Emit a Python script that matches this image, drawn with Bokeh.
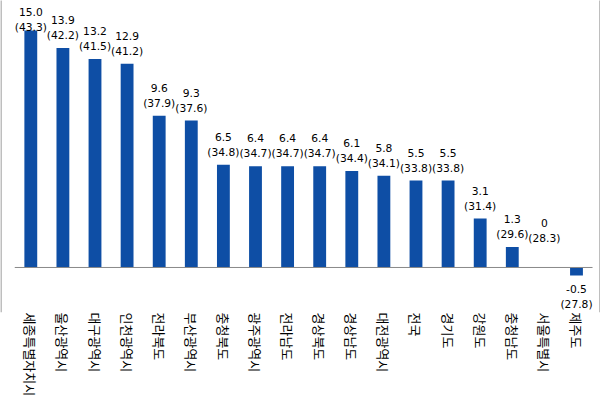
import numpy as np
from bokeh.plotting import figure
from bokeh.models import ColumnDataSource, FixedTicker, Range1d, BoxAnnotation, LabelSet
from bokeh.core.properties import value
from bokeh.embed import file_html
from bokeh.resources import INLINE

categories = ["세종특별자치시", "울산광역시", "대구광역시", "인천광역시", "전라북도", "부산광역시",
              "충청북도", "광주광역시", "전라남도", "경상북도", "경상남도", "대전광역시",
              "전국", "경기도", "강원도", "충청남도", "서울특별시", "제주도"]
values = [15.0, 13.9, 13.2, 12.9, 9.6, 9.3, 6.5, 6.4, 6.4, 6.4, 6.1, 5.8, 5.5, 5.5, 3.1, 1.3, 0, -0.5]
value_labels = ["15.0", "13.9", "13.2", "12.9", "9.6", "9.3", "6.5", "6.4", "6.4", "6.4", "6.1",
                "5.8", "5.5", "5.5", "3.1", "1.3", "0", "-0.5"]
paren_values = [43.3, 42.2, 41.5, 41.2, 37.9, 37.6, 34.8, 34.7, 34.7, 34.7, 34.4, 34.1,
                33.8, 33.8, 31.4, 29.6, 28.3, 27.8]

n = len(categories)
xs = list(range(n))
v = np.array(values, dtype=float)
label_y = np.where(v >= 0, np.clip(v, 1.05, 14.4), v)
val_off = np.where(v >= 0, 24, -18)
par_off = np.where(v >= 0, 9, -33)

src = ColumnDataSource(dict(
    x=xs, v=values, ly=label_y, vt=value_labels,
    pt=["(%.1f)" % pv for pv in paren_values],
    voff=val_off, poff=par_off,
))

p = figure(frame_width=600, frame_height=312,
           x_range=Range1d(-0.944, 17.748), y_range=Range1d(-2.85, 16.90),
           output_backend="svg", toolbar_location=None, y_axis_location=None,
           min_border_left=0, min_border_right=0, min_border_top=0, min_border_bottom=0)
p.outline_line_color = None
p.grid.visible = False
p.background_fill_color = "white"
p.border_fill_color = "white"

p.vbar(x="x", top="v", bottom=0, width=0.4, source=src,
       fill_color="#0E4EA5", line_color=None)
p.segment(x0=-0.5, x1=n - 0.5, y0=0, y1=0, line_color="#888888", line_width=1)

for col, off in (("vt", "voff"), ("pt", "poff")):
    p.add_layout(LabelSet(x="x", y="ly", text=col, y_offset=off, source=src,
                          text_align="center", text_baseline="alphabetic",
                          text_font=value("DejaVu Sans"), text_font_size="10.7px",
                          text_color="black"))

for lft in (0, 599):
    p.add_layout(BoxAnnotation(left=lft, right=lft + 1, top=0, bottom=402,
                               left_units="screen", right_units="screen",
                               top_units="screen", bottom_units="screen",
                               fill_color="#7f7f7f", fill_alpha=1, line_color=None))

ax = p.xaxis[0]
ax.ticker = FixedTicker(ticks=xs)
ax.major_label_overrides = {i: c for i, c in zip(xs, categories)}
ax.major_label_orientation = "vertical"
ax.axis_line_color = None
ax.major_tick_line_color = None
ax.minor_tick_line_color = None
ax.major_tick_out = 0
ax.major_tick_in = 0
ax.major_label_standoff = 0
ax.major_label_text_font = "Noto Sans CJK KR"
ax.major_label_text_font_size = "13px"
ax.major_label_text_color = "black"

open("out.html", "w").write(file_html(p, INLINE))
